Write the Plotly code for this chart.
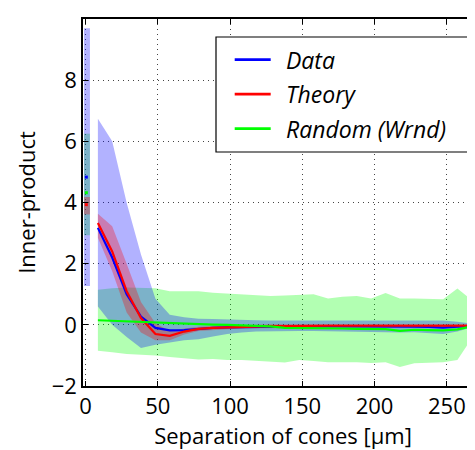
import plotly.graph_objects as go

# ---------------- data ----------------
sep = [8.6, 18.5, 28.5, 38.4, 48.4, 58.3, 68.3, 78.2, 88.2, 98.1, 108.1, 118.0, 128.0,
       137.9, 147.9, 157.8, 167.8, 177.7, 187.7, 197.6, 207.6, 217.5, 227.5, 237.4,
       247.4, 257.3, 267.3]

data_mean = [3.17, 2.2, 1.0, 0.27, -0.1, -0.18, -0.17, -0.13, -0.1, -0.08, -0.07, -0.06,
             -0.05, -0.05, -0.04, -0.04, -0.04, -0.04, -0.04, -0.04, -0.05, -0.05, -0.06,
             -0.07, -0.09, -0.06, -0.05]
data_hi = [6.74, 6.0, 3.99, 2.3, 0.85, 0.33, 0.25, 0.2, 0.19, 0.17, 0.16, 0.15, 0.14,
           0.14, 0.14, 0.14, 0.14, 0.14, 0.14, 0.14, 0.15, 0.15, 0.15, 0.15, 0.14, 0.1, 0.04]
data_lo = [0.6, 0.0, -0.4, -0.76, -0.65, -0.57, -0.5, -0.47, -0.38, -0.3, -0.25, -0.22,
           -0.2, -0.2, -0.2, -0.2, -0.2, -0.2, -0.22, -0.22, -0.24, -0.25, -0.24, -0.26,
           -0.3, -0.22, -0.08]

theory_mean = [3.33, 2.4, 1.1, 0.22, -0.3, -0.36, -0.22, -0.13, -0.1, -0.08, -0.06, -0.05,
               -0.04, -0.04, -0.03, -0.03, -0.03, -0.03, -0.03, -0.03, -0.03, -0.03, -0.03,
               -0.03, -0.03, -0.03, -0.03]
theory_hi = [3.63, 3.22, 2.0, 0.75, 0.05, -0.2, -0.12, -0.06, -0.04, -0.02, 0.0, 0.01,
             0.02, 0.02, 0.03, 0.03, 0.03, 0.03, 0.03, 0.03, 0.03, 0.03, 0.03, 0.03, 0.03,
             0.03, 0.03]
theory_lo = [2.85, 1.75, 0.4, -0.25, -0.5, -0.5, -0.32, -0.2, -0.16, -0.14, -0.12, -0.11,
             -0.1, -0.1, -0.09, -0.09, -0.09, -0.09, -0.09, -0.09, -0.09, -0.09, -0.09,
             -0.09, -0.09, -0.09, -0.09]

random_mean = [0.15, 0.13, 0.11, 0.09, 0.07, 0.05, 0.04, 0.02, 0.01, 0.0, -0.01, -0.02,
               -0.05, -0.1, -0.1, -0.11, -0.12, -0.12, -0.13, -0.13, -0.14, -0.2, -0.16,
               -0.17, -0.18, -0.15, -0.05]
random_hi = [1.15, 1.2, 1.22, 1.22, 1.2, 1.1, 1.1, 1.1, 1.05, 1.02, 1.0, 0.98, 0.94, 0.96,
             0.98, 1.0, 0.86, 0.92, 0.94, 0.86, 1.04, 0.86, 0.86, 0.85, 0.84, 1.19, 0.8]
random_lo = [-0.85, -0.9, -0.95, -0.98, -1.0, -1.05, -1.1, -1.13, -1.12, -1.15, -1.15,
             -1.18, -1.2, -1.23, -1.15, -1.18, -1.22, -1.22, -1.22, -1.25, -1.22, -1.38,
             -1.26, -1.25, -1.22, -1.15, -0.44]

# values at zero separation
zero_x = [-1.0, 3.1]
zero_point_x = [0.6]
zero_data = [4.83]
zero_data_hi = [9.7]
zero_data_lo = [1.27]
zero_theory = [3.93]
zero_theory_hi = [4.18]
zero_theory_lo = [3.61]
zero_random = [4.32]
zero_random_hi = [6.25]
zero_random_lo = [2.93]

x_ticks = [0, 50, 100, 150, 200, 250]
y_ticks = [-2, 0, 2, 4, 6, 8]
y_ticktext = ["\u22122", "0", "2", "4", "6", "8"]

labels = ["Data", "Theory", "Random (Wrnd)"]

BLUE, RED, GREEN = "#0000ff", "#ff0000", "#00ff00"
BLUE_F = "rgba(0,0,255,0.3)"
RED_F = "rgba(255,0,0,0.3)"
GREEN_F = "rgba(0,255,0,0.3)"

FONT = "Open Sans"

fig = go.Figure()


def band(x, lo, hi, color):
    fig.add_trace(go.Scatter(
        x=list(x) + list(x)[::-1], y=list(hi) + list(lo)[::-1],
        fill="toself", fillcolor=color, mode="lines", line=dict(width=0),
        hoverinfo="skip", showlegend=False))


# bands (random first, then data, then theory)
band(sep, random_lo, random_hi, GREEN_F)
band(zero_x, zero_random_lo * 2, zero_random_hi * 2, GREEN_F)
band(sep, data_lo, data_hi, BLUE_F)
band(zero_x, zero_data_lo * 2, zero_data_hi * 2, BLUE_F)
band(sep, theory_lo, theory_hi, RED_F)
band(zero_x, zero_theory_lo * 2, zero_theory_hi * 2, RED_F)

# mean lines
for y, c, name in [(data_mean, BLUE, labels[0]), (theory_mean, RED, labels[1]),
                   (random_mean, GREEN, labels[2])]:
    fig.add_trace(go.Scatter(x=sep, y=y, mode="lines", line=dict(color=c, width=2.2),
                             name=name, showlegend=False))

for y, c in [(zero_data, BLUE), (zero_theory, RED), (zero_random, GREEN)]:
    fig.add_trace(go.Scatter(x=zero_point_x, y=y, mode="markers",
                             marker=dict(color=c, size=3, symbol="square"),
                             showlegend=False))

# ---------------- layout ----------------
W, H = 475, 450
L, R, T, B = 75, 0, 11, 72
PW, PH = W - L - R, H - T - B


def px(xp):
    return (xp - L) / PW


def py(yp):
    return (H - B - yp) / PH


grid = dict(showgrid=True, gridcolor="#444444", gridwidth=1, griddash="1px,4px",
            zeroline=False, showline=True, linecolor="black", linewidth=1.5,
            ticks="inside", ticklen=5, tickwidth=1.3, tickcolor="black",
            tickfont=dict(family=FONT, size=22, color="black"))

fig.update_layout(
    width=W, height=H, margin=dict(l=L, r=R, t=T, b=B),
    plot_bgcolor="white", paper_bgcolor="white", showlegend=False,
    xaxis=dict(range=[-1.7, 275], tickvals=x_ticks, mirror="ticks",
               title=dict(text="Separation of cones [\u03bcm]",
                          font=dict(family=FONT, size=22, color="black"), standoff=4),
               **grid),
    yaxis=dict(range=[-2, 10], tickvals=y_ticks, ticktext=y_ticktext,
               title=dict(text="Inner-product",
                          font=dict(family=FONT, size=22, color="black"), standoff=10),
               **grid),
)

# legend box (drawn manually to match the reference frame)
shapes = [dict(type="rect", xref="paper", yref="paper", x0=px(208), x1=px(463),
               y0=py(144), y1=py(29), line=dict(color="black", width=1.2),
               fillcolor="white", layer="above")]
annots = []
for i, (lab, c) in enumerate(zip(labels, [BLUE, RED, GREEN])):
    yc = 51.7 + i * 34.5
    shapes.append(dict(type="line", xref="paper", yref="paper", x0=px(226.7), x1=px(262.7),
                       y0=py(yc), y1=py(yc), line=dict(color=c, width=2.7), layer="above"))
    annots.append(dict(x=px(276), y=py(yc), xref="paper", yref="paper", text=lab,
                       showarrow=False, xanchor="left", yanchor="middle",
                       font=dict(family=FONT, size=23, color="black", style="italic")))
fig.update_layout(shapes=shapes, annotations=annots)

fig.write_html("out.html")
